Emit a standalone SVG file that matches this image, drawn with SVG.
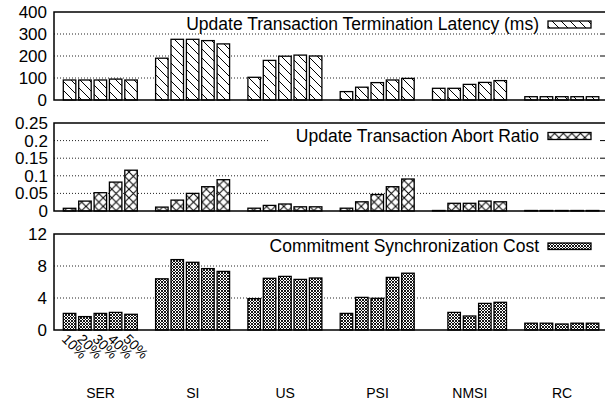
<svg xmlns="http://www.w3.org/2000/svg" width="605" height="402" viewBox="0 0 605 402">
<style>
text{font-family:"Liberation Sans",Arial,sans-serif;fill:#000}
.tick{font-size:17px;text-anchor:end}
.leg{font-size:17.5px;text-anchor:end}
.cat{font-size:14px;text-anchor:middle}
.rot{font-size:14px}
.frame{stroke:#000;stroke-width:1.5;fill:none}
.grid{stroke:#222;stroke-width:1;stroke-dasharray:1,2;fill:none}
.rt{stroke:#000;stroke-width:1}
.b1{fill:url(#pDiag);stroke:#000;stroke-width:1.3}
.b2{fill:url(#pCross);stroke:#000;stroke-width:1.3}
.b3{fill:url(#pDense);stroke:#000;stroke-width:1.3}
</style>
<defs>
<pattern id="pDiag" patternUnits="userSpaceOnUse" width="9" height="9">
<rect width="9" height="9" fill="#fff"/>
<path d="M0,0L9,9M-1,8L1,10M8,-1L10,1" stroke="#000" stroke-width="1"/>
</pattern>
<pattern id="pCross" patternUnits="userSpaceOnUse" width="8.6" height="8.6">
<rect width="8.6" height="8.6" fill="#fff"/>
<path d="M0,0L8.6,8.6M8.6,0L0,8.6" stroke="#000" stroke-width="1"/>
</pattern>
<pattern id="pDense" patternUnits="userSpaceOnUse" width="3" height="3">
<rect width="3" height="3" fill="#fff"/>
<path d="M0,0L3,3M3,0L0,3" stroke="#000" stroke-width="0.9"/>
</pattern>
</defs>

<g id="panel-latency">
<g id="latency-grid">
<path class="grid" d="M54,34H600M54,56H600M54,78H600"/>
<path class="rt" d="M600,34H605M600,56H605M600,78H605"/>
</g>
<g id="latency-axes">
<text class="tick" x="47" y="18">400</text>
<text class="tick" x="47" y="40">300</text>
<text class="tick" x="47" y="62">200</text>
<text class="tick" x="47" y="84">100</text>
<text class="tick" x="47" y="106">0</text>
</g>
<g id="latency-bars">
<rect class="b1" x="63.3" y="80" width="12.5" height="20"/>
<rect class="b1" x="78.7" y="80" width="12.5" height="20"/>
<rect class="b1" x="94.1" y="80" width="12.5" height="20"/>
<rect class="b1" x="109.4" y="79.1" width="12.5" height="20.9"/>
<rect class="b1" x="124.8" y="80" width="12.5" height="20"/>
<rect class="b1" x="155.6" y="58.2" width="12.5" height="41.8"/>
<rect class="b1" x="171" y="39.3" width="12.5" height="60.7"/>
<rect class="b1" x="186.4" y="39.3" width="12.5" height="60.7"/>
<rect class="b1" x="201.7" y="40.6" width="12.5" height="59.4"/>
<rect class="b1" x="217.1" y="43.9" width="12.5" height="56.1"/>
<rect class="b1" x="247.9" y="77.3" width="12.5" height="22.7"/>
<rect class="b1" x="263.3" y="60.4" width="12.5" height="39.6"/>
<rect class="b1" x="278.7" y="56.2" width="12.5" height="43.8"/>
<rect class="b1" x="294" y="55.1" width="12.5" height="44.9"/>
<rect class="b1" x="309.4" y="56" width="12.5" height="44"/>
<rect class="b1" x="340.2" y="91.6" width="12.5" height="8.4"/>
<rect class="b1" x="355.6" y="87.2" width="12.5" height="12.8"/>
<rect class="b1" x="371" y="82.6" width="12.5" height="17.4"/>
<rect class="b1" x="386.3" y="80" width="12.5" height="20"/>
<rect class="b1" x="401.7" y="78.4" width="12.5" height="21.6"/>
<rect class="b1" x="432.5" y="88.3" width="12.5" height="11.7"/>
<rect class="b1" x="447.9" y="88.3" width="12.5" height="11.7"/>
<rect class="b1" x="463.3" y="84.4" width="12.5" height="15.6"/>
<rect class="b1" x="478.6" y="82.4" width="12.5" height="17.6"/>
<rect class="b1" x="494" y="80.6" width="12.5" height="19.4"/>
<rect class="b1" x="524.8" y="96.7" width="12.5" height="3.3"/>
<rect class="b1" x="540.2" y="96.7" width="12.5" height="3.3"/>
<rect class="b1" x="555.6" y="96.7" width="12.5" height="3.3"/>
<rect class="b1" x="570.9" y="96.7" width="12.5" height="3.3"/>
<rect class="b1" x="586.3" y="96.7" width="12.5" height="3.3"/>
</g>
<path class="frame" d="M605,12H54V100H605"/>
<g id="latency-legend">
<text class="leg" x="539" y="30">Update Transaction Termination Latency (ms)</text>
<rect class="b1" x="548" y="21" width="43" height="7"/>
</g>
</g>

<g id="panel-abort">
<g id="abort-grid">
<path class="grid" d="M54,140.6H270M54,158.2H600M54,175.8H600M54,193.4H600"/>
<path class="rt" d="M600,140.6H605M600,158.2H605M600,175.8H605M600,193.4H605"/>
</g>
<g id="abort-axes">
<text class="tick" x="48" y="129">0.25</text>
<text class="tick" x="48" y="146.6">0.2</text>
<text class="tick" x="48" y="164.2">0.15</text>
<text class="tick" x="48" y="181.8">0.1</text>
<text class="tick" x="48" y="199.4">0.05</text>
<text class="tick" x="48" y="217">0</text>
</g>
<g id="abort-bars">
<rect class="b2" x="63.3" y="208.3" width="12.5" height="2.7"/>
<rect class="b2" x="78.7" y="201.1" width="12.5" height="9.9"/>
<rect class="b2" x="94.1" y="192.7" width="12.5" height="18.3"/>
<rect class="b2" x="109.4" y="182.1" width="12.5" height="28.9"/>
<rect class="b2" x="124.8" y="170.2" width="12.5" height="40.8"/>
<rect class="b2" x="155.6" y="207.1" width="12.5" height="3.9"/>
<rect class="b2" x="171" y="200.1" width="12.5" height="10.9"/>
<rect class="b2" x="186.4" y="193.4" width="12.5" height="17.6"/>
<rect class="b2" x="201.7" y="186.7" width="12.5" height="24.3"/>
<rect class="b2" x="217.1" y="179.7" width="12.5" height="31.3"/>
<rect class="b2" x="247.9" y="208.2" width="12.5" height="2.8"/>
<rect class="b2" x="263.3" y="205.4" width="12.5" height="5.6"/>
<rect class="b2" x="278.7" y="204" width="12.5" height="7"/>
<rect class="b2" x="294" y="206.8" width="12.5" height="4.2"/>
<rect class="b2" x="309.4" y="206.8" width="12.5" height="4.2"/>
<rect class="b2" x="340.2" y="208.2" width="12.5" height="2.8"/>
<rect class="b2" x="355.6" y="201.8" width="12.5" height="9.2"/>
<rect class="b2" x="371" y="194.5" width="12.5" height="16.5"/>
<rect class="b2" x="386.3" y="186.7" width="12.5" height="24.3"/>
<rect class="b2" x="401.7" y="179" width="12.5" height="32"/>
<rect class="b2" x="432.5" y="210.5" width="12.5" height="0.5"/>
<rect class="b2" x="447.9" y="203.3" width="12.5" height="7.7"/>
<rect class="b2" x="463.3" y="203.3" width="12.5" height="7.7"/>
<rect class="b2" x="478.6" y="201.1" width="12.5" height="9.9"/>
<rect class="b2" x="494" y="201.8" width="12.5" height="9.2"/>
<rect class="b2" x="524.8" y="210.5" width="12.5" height="0.5"/>
<rect class="b2" x="540.2" y="210.5" width="12.5" height="0.5"/>
<rect class="b2" x="555.6" y="210.5" width="12.5" height="0.5"/>
<rect class="b2" x="570.9" y="210.5" width="12.5" height="0.5"/>
<rect class="b2" x="586.3" y="210.5" width="12.5" height="0.5"/>
</g>
<path class="frame" d="M605,123H54V211H605"/>
<g id="abort-legend">
<text class="leg" x="539" y="142">Update Transaction Abort Ratio</text>
<rect class="b2" x="548" y="132.5" width="43" height="7"/>
</g>
</g>

<g id="panel-sync">
<g id="sync-grid">
<path class="grid" d="M54,266H600M54,298H600"/>
<path class="rt" d="M600,266H605M600,298H605"/>
</g>
<g id="sync-axes">
<text class="tick" x="47" y="240">12</text>
<text class="tick" x="47" y="272">8</text>
<text class="tick" x="47" y="304">4</text>
<text class="tick" x="47" y="336">0</text>
</g>
<g id="sync-bars">
<rect class="b3" x="63.3" y="313.4" width="12.5" height="16.6"/>
<rect class="b3" x="78.7" y="316.6" width="12.5" height="13.4"/>
<rect class="b3" x="94.1" y="313.4" width="12.5" height="16.6"/>
<rect class="b3" x="109.4" y="312.4" width="12.5" height="17.6"/>
<rect class="b3" x="124.8" y="314.3" width="12.5" height="15.7"/>
<rect class="b3" x="155.6" y="278.8" width="12.5" height="51.2"/>
<rect class="b3" x="171" y="259.6" width="12.5" height="70.4"/>
<rect class="b3" x="186.4" y="262.3" width="12.5" height="67.7"/>
<rect class="b3" x="201.7" y="268.6" width="12.5" height="61.4"/>
<rect class="b3" x="217.1" y="271.4" width="12.5" height="58.6"/>
<rect class="b3" x="247.9" y="298.6" width="12.5" height="31.4"/>
<rect class="b3" x="263.3" y="278.3" width="12.5" height="51.7"/>
<rect class="b3" x="278.7" y="276.4" width="12.5" height="53.6"/>
<rect class="b3" x="294" y="279.4" width="12.5" height="50.6"/>
<rect class="b3" x="309.4" y="278" width="12.5" height="52"/>
<rect class="b3" x="340.2" y="313.4" width="12.5" height="16.6"/>
<rect class="b3" x="355.6" y="297.4" width="12.5" height="32.6"/>
<rect class="b3" x="371" y="298.3" width="12.5" height="31.7"/>
<rect class="b3" x="386.3" y="277.4" width="12.5" height="52.6"/>
<rect class="b3" x="401.7" y="273.2" width="12.5" height="56.8"/>
<rect class="b3" x="447.9" y="312.4" width="12.5" height="17.6"/>
<rect class="b3" x="463.3" y="316" width="12.5" height="14"/>
<rect class="b3" x="478.6" y="303.4" width="12.5" height="26.6"/>
<rect class="b3" x="494" y="302.3" width="12.5" height="27.7"/>
<rect class="b3" x="524.8" y="323.2" width="12.5" height="6.8"/>
<rect class="b3" x="540.2" y="323.2" width="12.5" height="6.8"/>
<rect class="b3" x="555.6" y="324" width="12.5" height="6"/>
<rect class="b3" x="570.9" y="323.2" width="12.5" height="6.8"/>
<rect class="b3" x="586.3" y="323.2" width="12.5" height="6.8"/>
</g>
<path class="frame" d="M605,234H54V330H605"/>
<g id="sync-legend">
<text class="leg" x="539" y="252">Commitment Synchronization Cost</text>
<rect class="b3" x="548" y="243" width="43" height="6.5"/>
</g>
</g>

<g id="x-axis">
<text class="rot" transform="translate(61,340) rotate(45)">10%</text>
<text class="rot" transform="translate(76.4,340) rotate(45)">20%</text>
<text class="rot" transform="translate(91.8,340) rotate(45)">30%</text>
<text class="rot" transform="translate(107.1,340) rotate(45)">40%</text>
<text class="rot" transform="translate(122.5,340) rotate(45)">50%</text>
<text class="cat" x="100.6" y="398">SER</text>
<text class="cat" x="192.9" y="398">SI</text>
<text class="cat" x="285.2" y="398">US</text>
<text class="cat" x="377.5" y="398">PSI</text>
<text class="cat" x="469.8" y="398">NMSI</text>
<text class="cat" x="562.1" y="398">RC</text>
</g>
</svg>
